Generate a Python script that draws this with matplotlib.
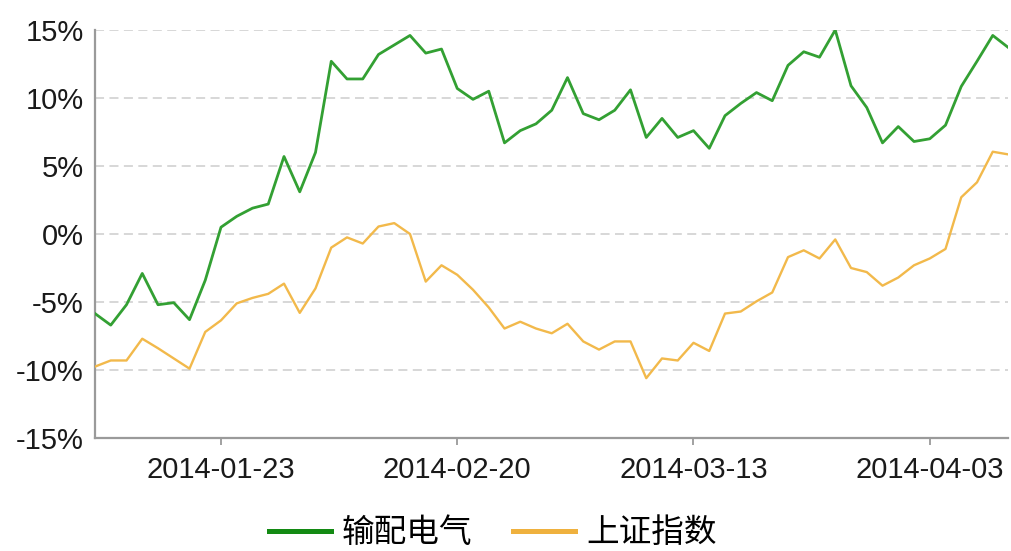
import matplotlib
matplotlib.use("Agg")
import matplotlib.pyplot as plt
from matplotlib.lines import Line2D
import pandas as pd

# trading days (SSE), 2014-01-13 .. 2014-04-11
holidays = ["2014-01-31", "2014-02-03", "2014-02-04", "2014-02-05", "2014-02-06", "2014-04-07"]
dates = [d.strftime("%Y-%m-%d") for d in pd.bdate_range("2014-01-13", "2014-04-11")
         if d.strftime("%Y-%m-%d") not in holidays]

tick_labels = ["2014-01-23", "2014-02-20", "2014-03-13", "2014-04-03"]

series_names = ["输配电气", "上证指数"]

sector = [-5.85, -6.7, -5.2, -2.9, -5.2, -5.05, -6.3, -3.4, 0.5, 1.3,
          1.9, 2.2, 5.7, 3.1, 6.0, 12.7, 11.4, 11.4, 13.2, 13.9,
          14.6, 13.3, 13.6, 10.7, 9.9, 10.5, 6.7, 7.6, 8.1, 9.1,
          11.5, 8.85, 8.4, 9.1, 10.6, 7.1, 8.5, 7.1, 7.6, 6.3,
          8.7, 9.6, 10.4, 9.8, 12.4, 13.4, 13.0, 15.0, 10.9, 9.3,
          6.7, 7.9, 6.8, 7.0, 8.0, 10.85, 12.7, 14.6, 13.7]

index_sh = [-9.75, -9.3, -9.3, -7.7, -8.4, -9.15, -9.9, -7.2, -6.35, -5.1,
            -4.7, -4.4, -3.65, -5.8, -4.0, -1.0, -0.25, -0.7, 0.55, 0.8,
            0.0, -3.5, -2.3, -3.0, -4.1, -5.4, -6.95, -6.45, -6.95, -7.3,
            -6.6, -7.9, -8.5, -7.9, -7.9, -10.6, -9.15, -9.3, -8.0, -8.6,
            -5.85, -5.7, -4.95, -4.3, -1.7, -1.2, -1.8, -0.4, -2.5, -2.8,
            -3.8, -3.2, -2.3, -1.8, -1.1, 2.7, 3.8, 6.05, 5.85]

y_ticks = [-15, -10, -5, 0, 5, 10, 15]

green = "#33a033"
green_leg = "#138a13"
orange = "#f2b94b"
orange_leg = "#efb13e"

plt.rcParams["font.family"] = ["Liberation Sans", "Noto Sans CJK SC", "DejaVu Sans"]

fig = plt.figure(figsize=(10.12, 5.51), dpi=100)
ax = fig.add_axes([95 / 1012, 1 - 438 / 551, 913.5 / 1012, 408 / 551])

x = list(range(len(dates)))
ax.plot(x, sector, color=green, lw=2.0, solid_joinstyle="round", zorder=3)
ax.plot(x, index_sh, color=orange, lw=1.7, solid_joinstyle="round", zorder=3)

ax.set_xlim(0, len(dates) - 1)
ax.set_ylim(-15, 15)
ax.set_yticks(y_ticks)
ax.set_yticklabels([f"{v}%" for v in y_ticks])
ax.set_xticks([dates.index(t) for t in tick_labels])
ax.set_xticklabels(tick_labels)

ax.grid(axis="y", color="#d4d4d4", lw=1.3, linestyle=(0, (5, 3)), zorder=0)
ax.grid(axis="x", visible=False)
for s in ["top", "right"]:
    ax.spines[s].set_visible(False)
for s in ["left", "bottom"]:
    ax.spines[s].set_color("#9a9a9a")
    ax.spines[s].set_linewidth(1.6)

ax.tick_params(axis="y", length=0, pad=8, labelsize=21, labelcolor="#1a1a1a")
ax.tick_params(axis="x", length=5, width=1.3, color="#9a9a9a", pad=8,
               labelsize=21, labelcolor="#1a1a1a")

handles = [Line2D([], [], color=green_leg, lw=3.6),
           Line2D([], [], color=orange_leg, lw=3.6)]
fig.legend(handles, series_names, loc="center", bbox_to_anchor=(0.487, 1 - 533 / 551),
           ncol=2, frameon=False, handlelength=1.9, handletextpad=0.35,
           columnspacing=1.25, borderaxespad=0,
           prop={"family": ["Noto Sans CJK SC", "DejaVu Sans"], "size": 23.5})

fig.savefig("out.png", dpi=100, facecolor="white")
